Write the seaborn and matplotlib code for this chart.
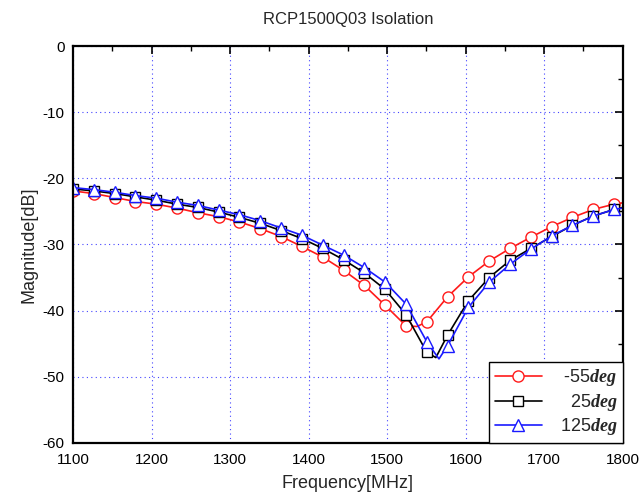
import numpy as np
import pandas as pd
import seaborn as sns
import matplotlib.pyplot as plt
from matplotlib.lines import Line2D
from matplotlib.ticker import MultipleLocator

# marker frequencies (MHz)
freq = [1100, 1126.5, 1153, 1179.5, 1206, 1232.5, 1259, 1285.5, 1312, 1338.5,
        1365, 1391.5, 1418, 1444.5, 1471, 1497.5, 1524, 1550.5, 1577, 1603.5,
        1630, 1656.5, 1683, 1709.5, 1736, 1762.5, 1789]

# isolation [dB] at each marker
iso_m55 = [-21.9, -22.3, -22.9, -23.5, -23.9, -24.5, -25.2, -25.8, -26.6, -27.6,
           -28.8, -30.3, -31.9, -33.9, -36.2, -39.2, -42.3, -41.7, -37.9, -34.9,
           -32.5, -30.6, -28.9, -27.3, -25.9, -24.7, -23.9]
iso_25 = [-21.6, -21.9, -22.3, -22.8, -23.3, -23.9, -24.4, -25.1, -25.9, -26.8,
          -27.9, -29.1, -30.6, -32.3, -34.3, -36.8, -40.6, -46.3, -43.7, -38.5,
          -35.0, -32.4, -30.6, -28.8, -27.1, -25.7, -24.7]
iso_125 = [-21.4, -21.7, -22.1, -22.6, -23.0, -23.6, -24.1, -24.8, -25.5, -26.4,
           -27.5, -28.6, -30.1, -31.6, -33.5, -35.7, -39.0, -44.7, -45.3, -39.5,
           -35.7, -33.0, -30.7, -28.7, -27.1, -25.7, -24.7]

# extra points on the traces (dip bottoms and the right end)
extra_f_m55 = [1538, 1800]
extra_m55 = [-42.4, -23.7]
extra_f_25 = [1562, 1800]
extra_25 = [-47.1, -24.4]
extra_f_125 = [1566, 1800]
extra_125 = [-47.3, -24.5]

labels = ['\u2009-55$\\mathbf{deg}$', '\u200725$\\mathbf{deg}$', '125$\\mathbf{deg}$']
colors = ['#ff1a1a', 'black', '#1a1aff']
markers = ['o', 's', '^']
msizes = [8, 7, 9]

sns.set_theme(style='white')
plt.rcParams['font.family'] = ['Liberation Sans', 'DejaVu Sans']
plt.rcParams['axes.unicode_minus'] = False
plt.rcParams['mathtext.fontset'] = 'custom'
plt.rcParams['mathtext.bf'] = 'Liberation Serif:bold:italic'
plt.rcParams['mathtext.rm'] = 'Liberation Sans'

fig = plt.figure(figsize=(6.43, 5.01), dpi=100)
ax = fig.add_axes([0.1135, 0.116, 0.855, 0.792])

series = [iso_m55, iso_25, iso_125]
extras = [(extra_f_m55, extra_m55), (extra_f_25, extra_25), (extra_f_125, extra_125)]
handles = []
for vals, (ef, ev), c, m, ms in zip(series, extras, colors, markers, msizes):
    line = pd.DataFrame({'f': freq + ef, 'v': vals + ev}).sort_values('f')
    sns.lineplot(data=line, x='f', y='v', color=c, lw=1.2, ax=ax, sort=True,
                 estimator=None, legend=False)
    pts = pd.DataFrame({'f': freq, 'v': vals})
    sns.lineplot(data=pts, x='f', y='v', color=c, linestyle='', marker=m,
                 markersize=ms, markerfacecolor='white', markeredgecolor=c,
                 markeredgewidth=1.0, ax=ax, estimator=None, legend=False)
    handles.append(Line2D([], [], color=c, lw=1.2, marker=m, markersize=ms,
                          markerfacecolor='white', markeredgecolor=c))

ax.set_xlim(1100, 1800)
ax.set_ylim(-60, 0)
ax.xaxis.set_major_locator(MultipleLocator(100))
ax.xaxis.set_minor_locator(MultipleLocator(50))
ax.yaxis.set_major_locator(MultipleLocator(10))
ax.yaxis.set_minor_locator(MultipleLocator(5))
ax.tick_params(which='both', direction='in', top=True, right=True,
               colors='black', labelsize=11)
ax.tick_params(which='major', length=6, width=1.2)
ax.tick_params(which='minor', length=3.5, width=1.0)
ax.tick_params(axis='x', pad=7)
ax.tick_params(axis='y', pad=6)
ax.grid(True, which='major', color='#4444ff', linestyle=(0, (1, 3)), lw=0.8)
for s in ax.spines.values():
    s.set_color('black')
    s.set_linewidth(1.6)

ax.set_title('RCP1500Q03 Isolation', fontsize=12, pad=16)
ax.set_xlabel('Frequency[MHz]', fontsize=13, labelpad=6)
ax.set_ylabel('Magnitude[dB]', fontsize=13, labelpad=4)

leg = ax.legend(handles, labels, loc='lower right', fontsize=13,
                borderaxespad=0, frameon=True, fancybox=False,
                handlelength=2.6, handletextpad=1.0, labelspacing=0.2,
                borderpad=0.3)
leg.get_frame().set_edgecolor('black')
leg.get_frame().set_linewidth(1.0)
leg.get_frame().set_alpha(1)

fig.savefig('out.png', dpi=100)
